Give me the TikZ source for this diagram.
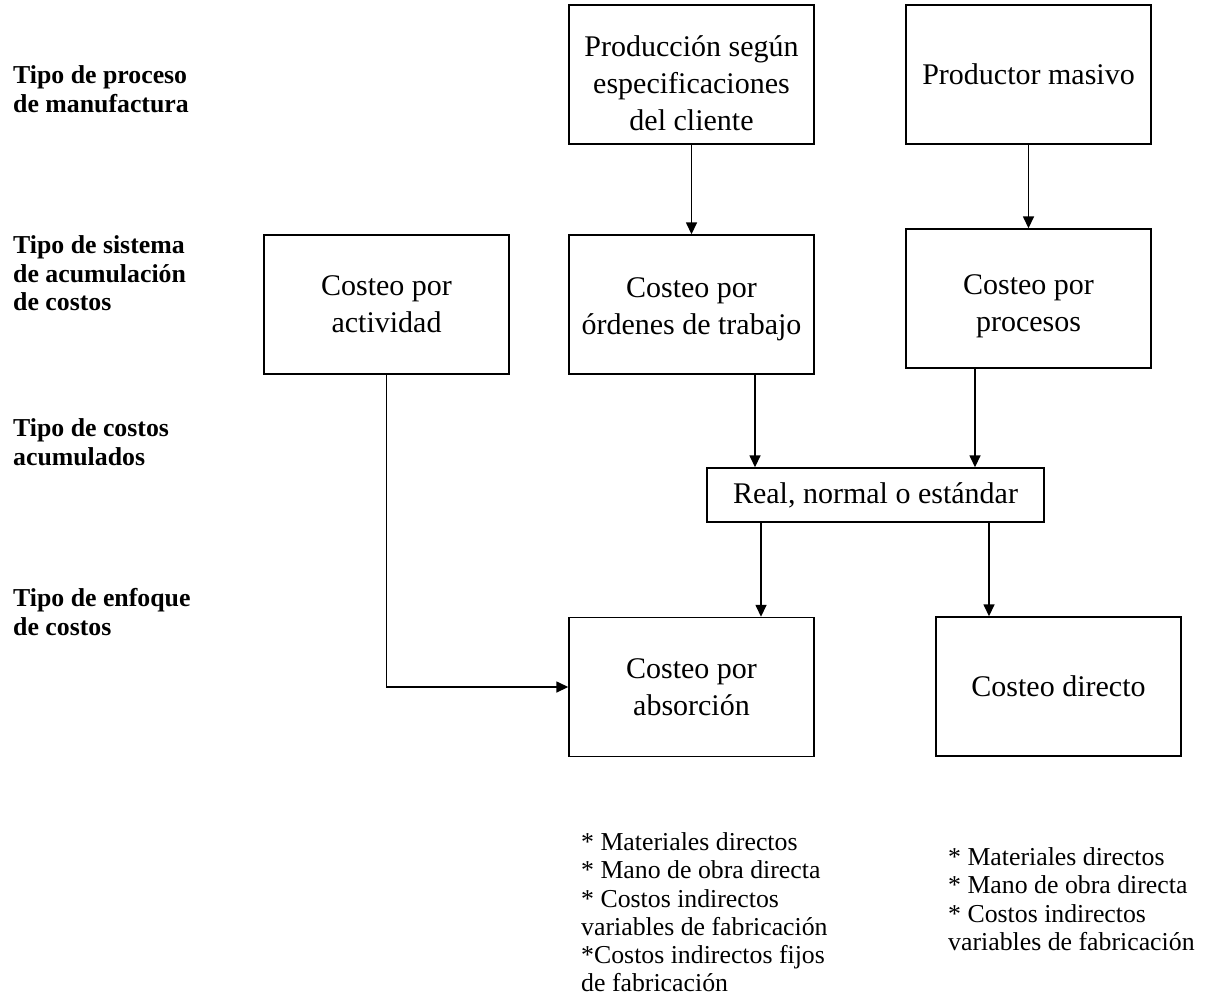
\documentclass[tikz,border=0pt]{standalone}
\usepackage{fontspec}
\setmainfont{Liberation Serif}
\usetikzlibrary{arrows.meta, calc}
\tikzset{
  % Process box
  cbox/.style={
    rectangle, draw=black, line width=1.4pt,
    align=center, inner sep=0pt,
    minimum width=245pt, minimum height=139pt,
    font=\fontsize{30}{37}\selectfont
  },
  % Flat box for the accumulated costs
  cbox flat/.style={cbox, minimum width=337pt, minimum height=54pt},
  % Row labels on the left
  rowlabel/.style={
    anchor=north west, align=left, inner sep=0pt,
    font=\fontsize{25.8}{28.5}\selectfont\bfseries
  },
  % Lists under the bottom boxes
  costlist/.style={
    anchor=north west, align=left, inner sep=0pt,
    font=\fontsize{25.8}{28.2}\selectfont
  },
  % Arrows
  arr/.style={-{Triangle[length=12pt,width=11pt]}, line width=1.5pt},
}
\newcommand{\topgap}[1]{\rule{0pt}{#1}}

\begin{document}
\begin{tikzpicture}[x=1pt, y=-1pt]
  \useasboundingbox (0,0) rectangle (1205,1007);

  %% Row labels
  \node[rowlabel] (lproc) at (13,65.5) {Tipo de proceso\\de manufactura};
  \node[rowlabel] (lsist) at (13,235.5) {Tipo de sistema\\de acumulación\\de costos};
  \node[rowlabel] (lacum) at (13,418.5) {Tipo de costos\\acumulados};
  \node[rowlabel] (lenfo) at (13,588.5) {Tipo de enfoque\\de costos};

  %% Boxes
  \node[cbox] (cliente) at (691.5,74.5) {\topgap{38pt}Producción según\\especificaciones\\del cliente};
  \node[cbox] (masivo) at (1028.5,74.5) {Productor masivo};

  \node[cbox] (actividad) at (386.5,304.5) {Costeo por\\actividad};
  \node[cbox] (ordenes) at (691.5,304.5) {\topgap{30pt}Costeo por\\órdenes de trabajo};
  \node[cbox] (procesos) at (1028.5,298.5) {\topgap{36pt}Costeo por\\procesos};

  \node[cbox flat] (real) at (875.5,495) {Real, normal o estándar};

  \node[cbox] (absorcion) at (691.5,687) {Costeo por\\absorción};
  \node[cbox] (directo) at (1058.5,686.5) {Costeo directo};

  %% Lists
  \node[costlist] (labs) at (581,832.5) {* Materiales directos\\* Mano de obra directa\\* Costos indirectos\\variables de fabricación\\*Costos indirectos fijos\\de fabricación};
  \node[costlist] (ldir) at (948,847.5) {* Materiales directos\\* Mano de obra directa\\* Costos indirectos\\variables de fabricación};

  %% Flow
  \draw[arr] (cliente) -- (ordenes);
  \draw[arr] (masivo) -- (procesos);
  \draw[arr] ([xshift=63.5pt]ordenes.south) -- ([xshift=63.5pt]ordenes.south |- real.north);
  \draw[arr] ([xshift=-53.5pt]procesos.south) -- ([xshift=-53.5pt]procesos.south |- real.north);
  \draw[arr] ([xshift=69.5pt]absorcion.north |- real.south) -- ([xshift=69.5pt]absorcion.north);
  \draw[arr] ([xshift=-69.5pt]directo.north |- real.south) -- ([xshift=-69.5pt]directo.north);
  \draw[arr] (actividad.south) |- (absorcion.west);

\end{tikzpicture}
\end{document}
